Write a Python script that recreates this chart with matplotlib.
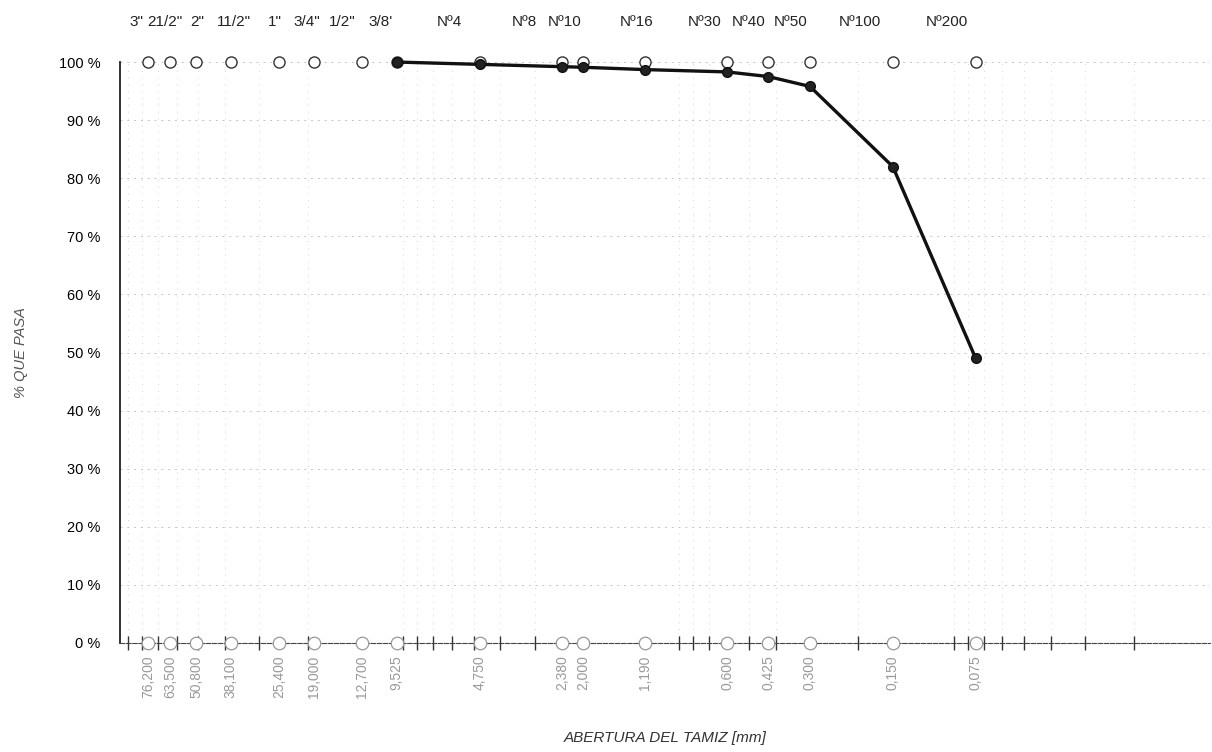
import numpy as np
import matplotlib.pyplot as plt

plt.rcParams['font.family'] = ['Liberation Sans', 'DejaVu Sans']

# sieve openings [mm] and names
sieve_mm = [76.2, 63.5, 50.8, 38.1, 25.4, 19.05, 12.7, 9.525, 4.75, 2.38, 2.0,
            1.19, 0.6, 0.425, 0.3, 0.15, 0.075]
sieve_names = ['3"', '21/2"', '2"', '11/2"', '1"', '3/4"', '1/2"', "3/8'", 'Nº4',
               'Nº8', 'Nº10', 'Nº16', 'Nº30', 'Nº40', 'Nº50', 'Nº100', 'Nº200']
tick_text = ['76,200', '63,500', '50,800', '38,100', '25,400', '19,000', '12,700',
             '9,525', '4,750', '2,380', '2,000', '1,190', '0,600', '0,425', '0,300',
             '0,150', '0,075']

# measured curve (% passing), from 3/8" down
curve_mm = [9.525, 4.75, 2.38, 2.0, 1.19, 0.6, 0.425, 0.3, 0.15, 0.075]
curve_pct = [100, 99.6, 99.2, 99.1, 98.7, 98.3, 97.5, 95.8, 82.0, 49.0]

# upper / lower reference points
upper_pct = [100] * len(sieve_mm)
lower_pct = [0] * len(sieve_mm)

# horizontal nudge of the sieve names (pixels), as in the original sheet
name_nudge = [-12, -5, 1, 3, -4, -7, -20, -16, -30, -38, -19, -9, -22, -20, -19, -33, -29]

fig = plt.figure(figsize=(12.12, 7.52), dpi=100)
ax = fig.add_axes([0.099, 0.145, 0.899, 0.7725])

ax.set_xscale('log')
ax.set_xlim(96.3, 0.0106)
ax.set_ylim(0, 100)

ax.grid(True, which='minor', axis='x', color='#d4d4d4', linestyle=(0, (1, 6)), linewidth=0.7)
ax.grid(True, which='major', axis='y', color='#c4c4c4', linestyle=(0, (2, 5)), linewidth=0.7)

ax.plot(sieve_mm, upper_pct, 'o', ms=8, mfc='white', mec='#333333', mew=1.0,
        clip_on=False, zorder=3)
ax.plot(sieve_mm, lower_pct, 'o', ms=9, mfc='white', mec='#999999', mew=0.9,
        clip_on=False, zorder=3)
ax.plot(curve_mm, curve_pct, '-o', color='#111111', lw=2.4, ms=7,
        mfc='#222222', mec='#111111', clip_on=False, zorder=4)

ax.set_yticks(np.arange(0, 101, 10))
ax.set_yticklabels(['%d %%' % v for v in range(0, 101, 10)], fontsize=10.5)
ax.tick_params(axis='y', length=0, pad=14)

ax.set_xticks(sieve_mm)
ax.set_xticklabels(tick_text, rotation=90, fontsize=10, color='#999999')
ax.tick_params(axis='x', which='major', length=0, pad=9)
ax.tick_params(axis='x', which='minor', direction='inout', length=10, width=1.0,
               color='#333333', labelbottom=False)
ax.xaxis.set_minor_formatter(plt.NullFormatter())

for s in ['top', 'right']:
    ax.spines[s].set_visible(False)
ax.spines['left'].set_color('#222222')
ax.spines['left'].set_linewidth(1.3)
ax.spines['bottom'].set_color('#444444')
ax.spines['bottom'].set_linestyle((0, (4, 1.5)))

for x, name, dx in zip(sieve_mm, sieve_names, name_nudge):
    ax.annotate(name, xy=(x, 1), xycoords=('data', 'axes fraction'),
                xytext=(dx, 40), textcoords='offset pixels',
                ha='center', va='center', fontsize=11, color='#222222')

ax.set_ylabel('% QUE PASA', fontsize=10.5, color='#555555', style='italic', labelpad=22)
ax.set_xlabel('ABERTURA DEL TAMIZ [mm]', fontsize=11, color='#333333',
              style='italic', labelpad=24)

fig.savefig('out.png', dpi=100)
